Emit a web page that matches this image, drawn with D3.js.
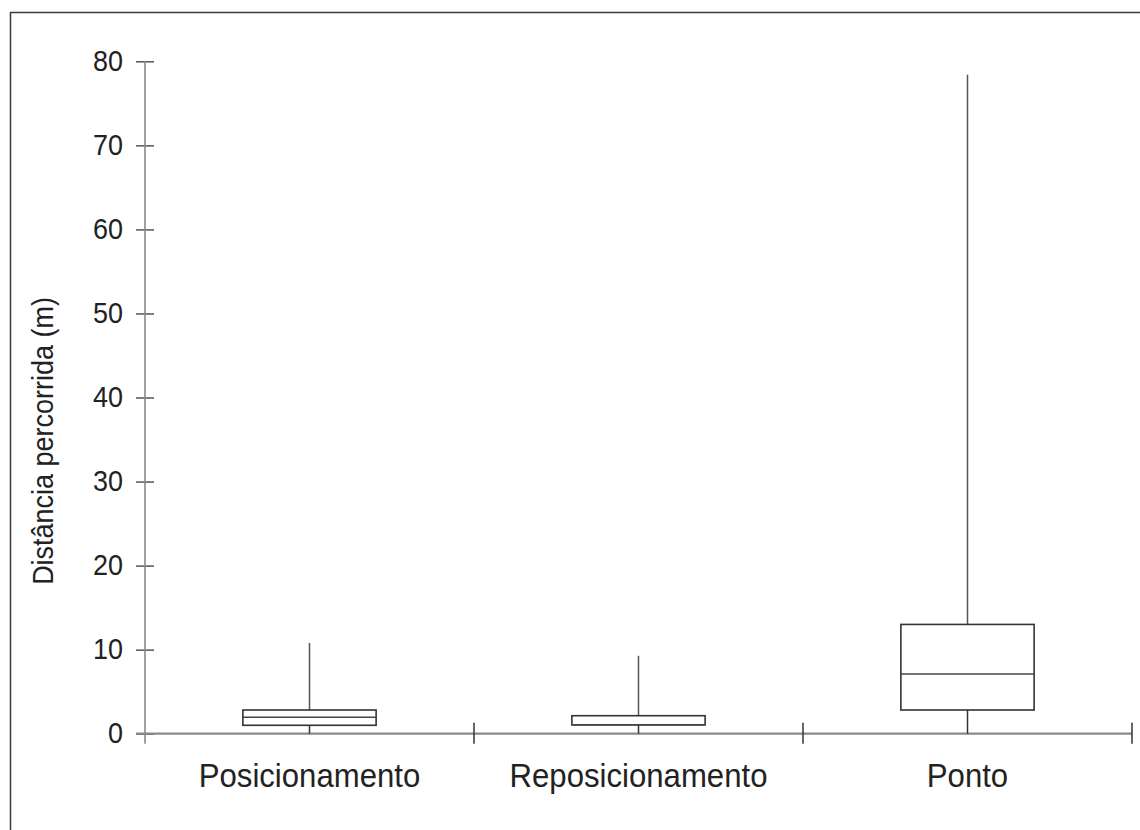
<!DOCTYPE html>
<html>
<head>
<meta charset="utf-8">
<script src="https://cdn.jsdelivr.net/npm/d3@7"></script>
<style>
  html, body { margin: 0; padding: 0; background: #fff; }
  svg { display: block; }
  text { font-family: "Liberation Sans", Arial, Helvetica, sans-serif; fill: #222; }
</style>
</head>
<body>
<svg id="chart" width="1140" height="830"></svg>
<script>
// Distance travelled per task type (box-and-whisker summaries, metres)
const categories = ["Posicionamento", "Reposicionamento", "Ponto"];
const whiskerLow = [0, 0, 0];
const quartile1 = [1.0, 1.05, 2.82];
const medians = [1.95, 1.05, 7.1];
const quartile3 = [2.82, 2.14, 13.0];
const whiskerHigh = [10.8, 9.27, 78.4];
const yTicks = [0, 10, 20, 30, 40, 50, 60, 70, 80];
const yTitle = "Distância percorrida (m)";

const boxes = categories.map((c, i) => ({
  cat: c, lo: whiskerLow[i], q1: quartile1[i], med: medians[i], q3: quartile3[i], hi: whiskerHigh[i]
}));

// slightly condensed lettering
const squeeze = 0.93;

const svg = d3.select("#chart");

// outer frame (only its top and left edges fall inside the page)
svg.append("rect")
  .attr("x", 10.5).attr("y", 12.5)
  .attr("width", 1400).attr("height", 1000)
  .attr("fill", "none").attr("stroke", "#3a3a3a").attr("stroke-width", 1.5);

const x = d3.scaleBand().domain(categories).range([145, 1132]).padding(0);
const y = d3.scaleLinear().domain([0, 80]).range([733.7, 61.3]);

// y axis
const yAxis = svg.append("g")
  .attr("transform", `translate(${x.range()[0]},0)`)
  .call(d3.axisLeft(y).tickValues(yTicks).tickSize(9).tickPadding(13).tickSizeOuter(0));
yAxis.select(".domain").remove();
yAxis.selectAll(".tick line").attr("x1", 9).attr("stroke", "#555").attr("stroke-width", 1.5);
yAxis.selectAll(".tick text")
  .attr("x", 0)
  .attr("transform", `translate(-22,0) scale(${squeeze},1)`)
  .attr("font-size", 29).attr("fill", "#222")
  .attr("font-family", "'Liberation Sans', Arial, sans-serif");
yAxis.append("line")
  .attr("x1", 0).attr("x2", 0)
  .attr("y1", y(80)).attr("y2", y(0) + 10)
  .attr("stroke", "#8a8a8a").attr("stroke-width", 1.6);

// x axis line
svg.append("line")
  .attr("x1", x.range()[0] - 9).attr("x2", x.range()[1])
  .attr("y1", y(0)).attr("y2", y(0))
  .attr("stroke", "#8a8a8a").attr("stroke-width", 2.2);

// category separators at band edges
const edges = categories.map(c => x(c) + x.bandwidth());
svg.selectAll("line.sep").data(edges).join("line")
  .attr("class", "sep")
  .attr("x1", d => d).attr("x2", d => d)
  .attr("y1", y(0) - 11).attr("y2", y(0) + 10)
  .attr("stroke", "#333").attr("stroke-width", 1.5);

// category labels
svg.selectAll("text.cat").data(categories).join("text")
  .attr("class", "cat")
  .attr("transform", d => `translate(${x(d) + x.bandwidth() / 2},787) scale(${squeeze},1)`)
  .attr("text-anchor", "middle")
  .attr("font-size", 33.5)
  .text(d => d);

// y axis title
svg.append("text")
  .attr("transform", `translate(53,441) rotate(-90) scale(${squeeze},1)`)
  .attr("text-anchor", "middle")
  .attr("font-size", 29)
  .text(yTitle);

// boxes
const boxW = x.bandwidth() * 0.405;
const g = svg.selectAll("g.box").data(boxes).join("g").attr("class", "box")
  .attr("transform", d => `translate(${x(d.cat) + x.bandwidth() / 2},0)`);

g.append("line")
  .attr("x1", 0).attr("x2", 0)
  .attr("y1", d => y(d.hi)).attr("y2", d => y(d.q3))
  .attr("stroke", "#555").attr("stroke-width", 1.5);
g.append("line")
  .attr("x1", 0).attr("x2", 0)
  .attr("y1", d => y(d.q1)).attr("y2", d => y(d.lo))
  .attr("stroke", "#333").attr("stroke-width", 1.5);
g.append("rect")
  .attr("x", -boxW / 2).attr("width", boxW)
  .attr("y", d => y(d.q3)).attr("height", d => y(d.q1) - y(d.q3))
  .attr("fill", "#fff").attr("stroke", "#333").attr("stroke-width", 1.6);
g.append("line")
  .attr("x1", -boxW / 2).attr("x2", boxW / 2)
  .attr("y1", d => y(d.med)).attr("y2", d => y(d.med))
  .attr("stroke", "#444").attr("stroke-width", 1.5);
</script>
</body>
</html>
